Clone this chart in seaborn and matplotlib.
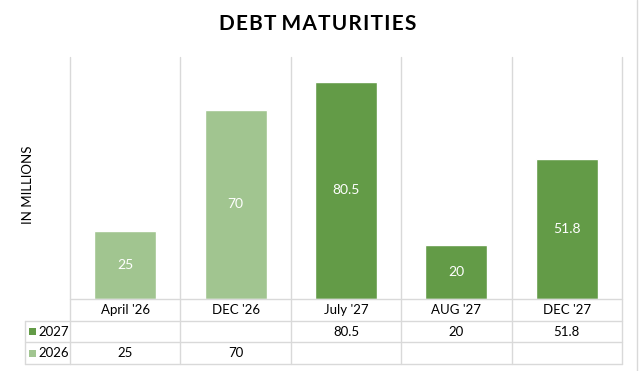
import numpy as np
import pandas as pd
import matplotlib
matplotlib.use("Agg")
import matplotlib.pyplot as plt
from matplotlib.patches import Rectangle
import seaborn as sns

# ── data ───────────────────────────────────────────────
categories = ["April '26", "DEC '26", "July '27", "AUG '27", "DEC '27"]
years      = ["2026", "2026", "2027", "2027", "2027"]
values     = [25, 70, 80.5, 20, 51.8]
table_rows = ["2027", "2026"]

palette = {"2026": "#A1C590", "2027": "#639B47"}
grid_c  = "#D9D9D9"

df = pd.DataFrame({"month": categories, "year": years, "amount": values})

sns.set_theme(style="white")
plt.rcParams["font.family"] = ["Lato", "DejaVu Sans"]

W, H = 640, 371
fig = plt.figure(figsize=(W / 100, H / 100), dpi=100)
x0, x1, y_top, y_base = 70, 622, 57, 299
ax = fig.add_axes([x0 / W, 1 - y_base / H, (x1 - x0) / W, (y_base - y_top) / H])

sns.barplot(data=df, x="month", y="amount", hue="year", palette=palette,
            dodge=False, width=0.56, ax=ax, legend=False, saturation=1)
ax.set_ylim(0, 89.6)
ax.set_xlim(-0.5, len(categories) - 0.5)
ax.set_xticks([]); ax.set_yticks([])
ax.set_xlabel(""); ax.set_ylabel("")
for s in ax.spines.values():
    s.set_visible(False)

# value labels inside bars
for i, v in enumerate(values):
    ax.text(i, v / 2, f"{v:g}", ha="center", va="center", color="white", fontsize=10)

# helper: pixel y -> axes fraction
def ay(ypix):
    return (y_base - ypix) / (y_base - y_top)

def axx(xpix):
    return (xpix - x0) / (x1 - x0)

xt = ax.get_xaxis_transform()
at = ax.transAxes
kw = dict(transform=xt, clip_on=False, color=grid_c, lw=1)

# vertical grid lines (category boundaries), extending through the table
for b in np.arange(len(categories) + 1) - 0.5:
    ax.plot([b, b], [ay(y_top), ay(364)], **kw)
# horizontal table lines
for yp in [299, 321, 342, 364]:
    ax.plot([-0.5, len(categories) - 0.5], [ay(yp), ay(yp)], **kw)

# legend column of the data table
lx = axx(25)
for yp in [321, 342, 364]:
    ax.plot([lx, 0], [ay(yp), ay(yp)], transform=at, clip_on=False, color=grid_c, lw=1)
ax.plot([lx, lx], [ay(321), ay(364)], transform=at, clip_on=False, color=grid_c, lw=1)

# category row
for i, c in enumerate(categories):
    ax.text(i, ay(310), c, transform=xt, ha="center", va="center", fontsize=9.5, color="#000000")

# data rows
row_y = {"2027": 331.5, "2026": 353}
for r in table_rows:
    yc = row_y[r]
    ax.add_patch(Rectangle((axx(29), ay(yc + 3.5)), axx(36) - axx(29), ay(yc - 3.5) - ay(yc + 3.5),
                           transform=at, clip_on=False, facecolor=palette[r], edgecolor="none"))
    ax.text(axx(38), ay(yc), r, transform=at, ha="left", va="center",
            fontsize=9.5, color="#000000")
    for i, (y, v) in enumerate(zip(years, values)):
        if y == r:
            ax.text(i, ay(yc), f"{v:g}", transform=xt, ha="center", va="center",
                    fontsize=9.5, color="#000000")

# right border of the chart frame
fig.add_artist(plt.Line2D([637 / W, 637 / W], [0, 1], color=grid_c, lw=1))

fig.text(318 / W, 1 - 24 / H, "D E B T   M A T U R I T I E S".replace(" ", "\u200a").replace("\u200a\u200a\u200a", " "),
         ha="center", va="center", fontsize=15, fontweight="bold", color="#000000")
fig.text(28 / W, 1 - 185 / H, "IN MILLIONS", rotation=90, ha="center", va="center",
         fontsize=9.5, color="#000000")

fig.savefig("out.png", dpi=100)
